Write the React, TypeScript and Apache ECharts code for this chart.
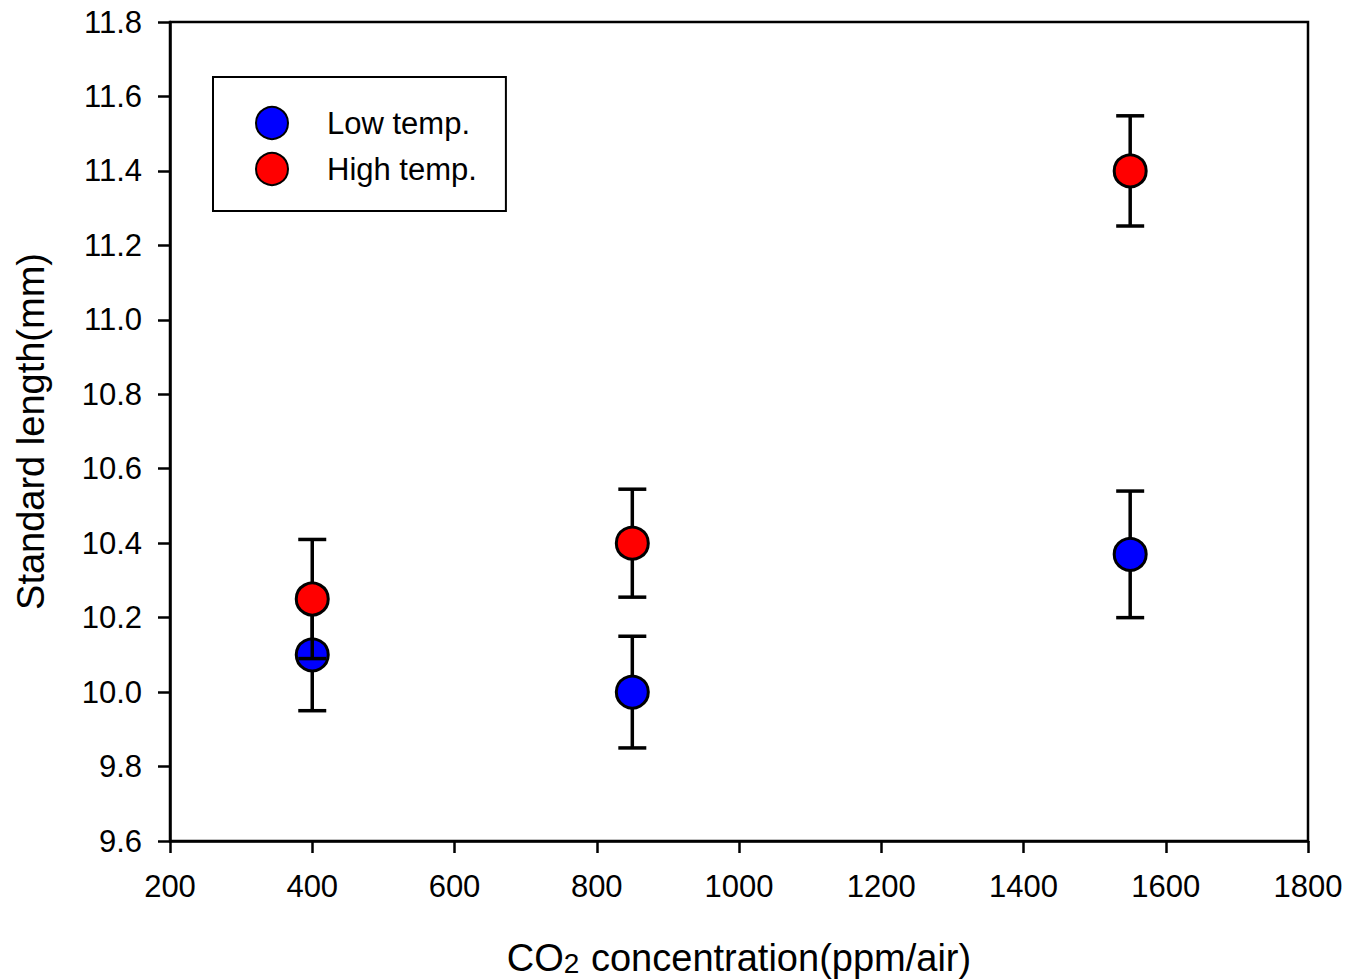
import React, { useEffect, useRef } from "react";
import * as echarts from "echarts";

const xValues = [400, 850, 1550];
const lowMean = [10.1, 10.0, 10.37];
const lowErr = [0.15, 0.15, 0.17];
const highMean = [10.25, 10.4, 11.4];
const highErr = [0.16, 0.145, 0.148];
const seriesNames = ["Low temp.", "High temp."];
const FONT = "'Liberation Sans', Arial, sans-serif";

function errData(means: number[], errs: number[]) {
  return xValues.map((x, i) => [x, means[i] - errs[i], means[i] + errs[i]]);
}

function errorRender(params: any, api: any) {
  const x = api.value(0);
  const lo = api.coord([x, api.value(1)]);
  const hi = api.coord([x, api.value(2)]);
  const half = 14;
  const style = { stroke: "#000", lineWidth: 3.5 };
  return {
    type: "group",
    children: [
      { type: "line", shape: { x1: lo[0], y1: lo[1], x2: hi[0], y2: hi[1] }, style },
      { type: "line", shape: { x1: lo[0] - half, y1: lo[1], x2: lo[0] + half, y2: lo[1] }, style },
      { type: "line", shape: { x1: hi[0] - half, y1: hi[1], x2: hi[0] + half, y2: hi[1] }, style },
    ],
  };
}

export default function App() {
  const ref = useRef<HTMLDivElement>(null);
  useEffect(() => {
    if (!ref.current) return;
    const chart = echarts.init(ref.current, null, { renderer: "svg" });
    const markerStyle = (color: string) => ({ color, borderColor: "#000", borderWidth: 3, opacity: 1 });
    chart.setOption({
      animation: false,
      backgroundColor: "#fff",
      grid: {
        left: 170,
        right: 44,
        top: 22,
        bottom: 138,
        show: true,
        outerBoundsMode: "none",
        containLabel: false,
        borderColor: "#000",
        borderWidth: 2.5,
        backgroundColor: "transparent",
      },
      legend: {
        data: seriesNames,
        orient: "vertical",
        left: 213,
        top: 77,
        itemWidth: 32,
        itemHeight: 32,
        itemGap: 12,
        padding: [29, 29, 25, 42],
        backgroundColor: "#fff",
        borderColor: "#000",
        borderWidth: 2,
        textStyle: { fontFamily: FONT, fontSize: 31, color: "#000", padding: [0, 0, 0, 34] },
      },
      xAxis: {
        type: "value",
        min: 200,
        max: 1800,
        interval: 200,
        name: "{a|CO}{s|2}{a| concentration(ppm/air)}",
        nameLocation: "middle",
        nameGap: 98,
        nameTextStyle: {
          rich: {
            a: { fontFamily: FONT, fontSize: 38, color: "#000" },
            s: { fontFamily: FONT, fontSize: 28, color: "#000", verticalAlign: "bottom", padding: [0, 1, 0, 0] },
          },
        },
        axisLine: { show: true, lineStyle: { color: "#000", width: 2.5 } },
        axisTick: { show: true, inside: false, length: 12, lineStyle: { color: "#000", width: 2.5 } },
        axisLabel: {
          fontFamily: FONT,
          fontSize: 31,
          color: "#000",
          margin: 30,
          formatter: (v: number) => String(v),
        },
        splitLine: { show: false },
      },
      yAxis: {
        type: "value",
        min: 9.6,
        max: 11.8,
        interval: 0.2,
        name: "Standard length(mm)",
        nameLocation: "middle",
        nameRotate: 90,
        nameGap: 120,
        nameTextStyle: { fontFamily: FONT, fontSize: 38, color: "#000" },
        axisLine: { show: true, lineStyle: { color: "#000", width: 2.5 } },
        axisTick: { show: true, inside: false, length: 12, lineStyle: { color: "#000", width: 2.5 } },
        axisLabel: {
          fontFamily: FONT,
          fontSize: 31,
          color: "#000",
          margin: 28,
          formatter: (v: number) => v.toFixed(1),
        },
        splitLine: { show: false },
      },
      series: [
        {
          type: "custom",
          name: "lowErr",
          renderItem: errorRender,
          data: errData(lowMean, lowErr),
          z: 2,
          silent: true,
        },
        {
          type: "scatter",
          name: seriesNames[0],
          data: xValues.map((x, i) => [x, lowMean[i]]),
          symbol: "circle",
          symbolSize: 32,
          itemStyle: markerStyle("#0000ff"),
          z: 3,
        },
        {
          type: "custom",
          name: "highErr",
          renderItem: errorRender,
          data: errData(highMean, highErr),
          z: 4,
          silent: true,
        },
        {
          type: "scatter",
          name: seriesNames[1],
          data: xValues.map((x, i) => [x, highMean[i]]),
          symbol: "circle",
          symbolSize: 32,
          itemStyle: markerStyle("#ff0000"),
          z: 5,
        },
      ],
    });
    return () => chart.dispose();
  }, []);
  return <div ref={ref} style={{ width: 1352, height: 979, position: "absolute", left: 0, top: 0 }} />;
}
